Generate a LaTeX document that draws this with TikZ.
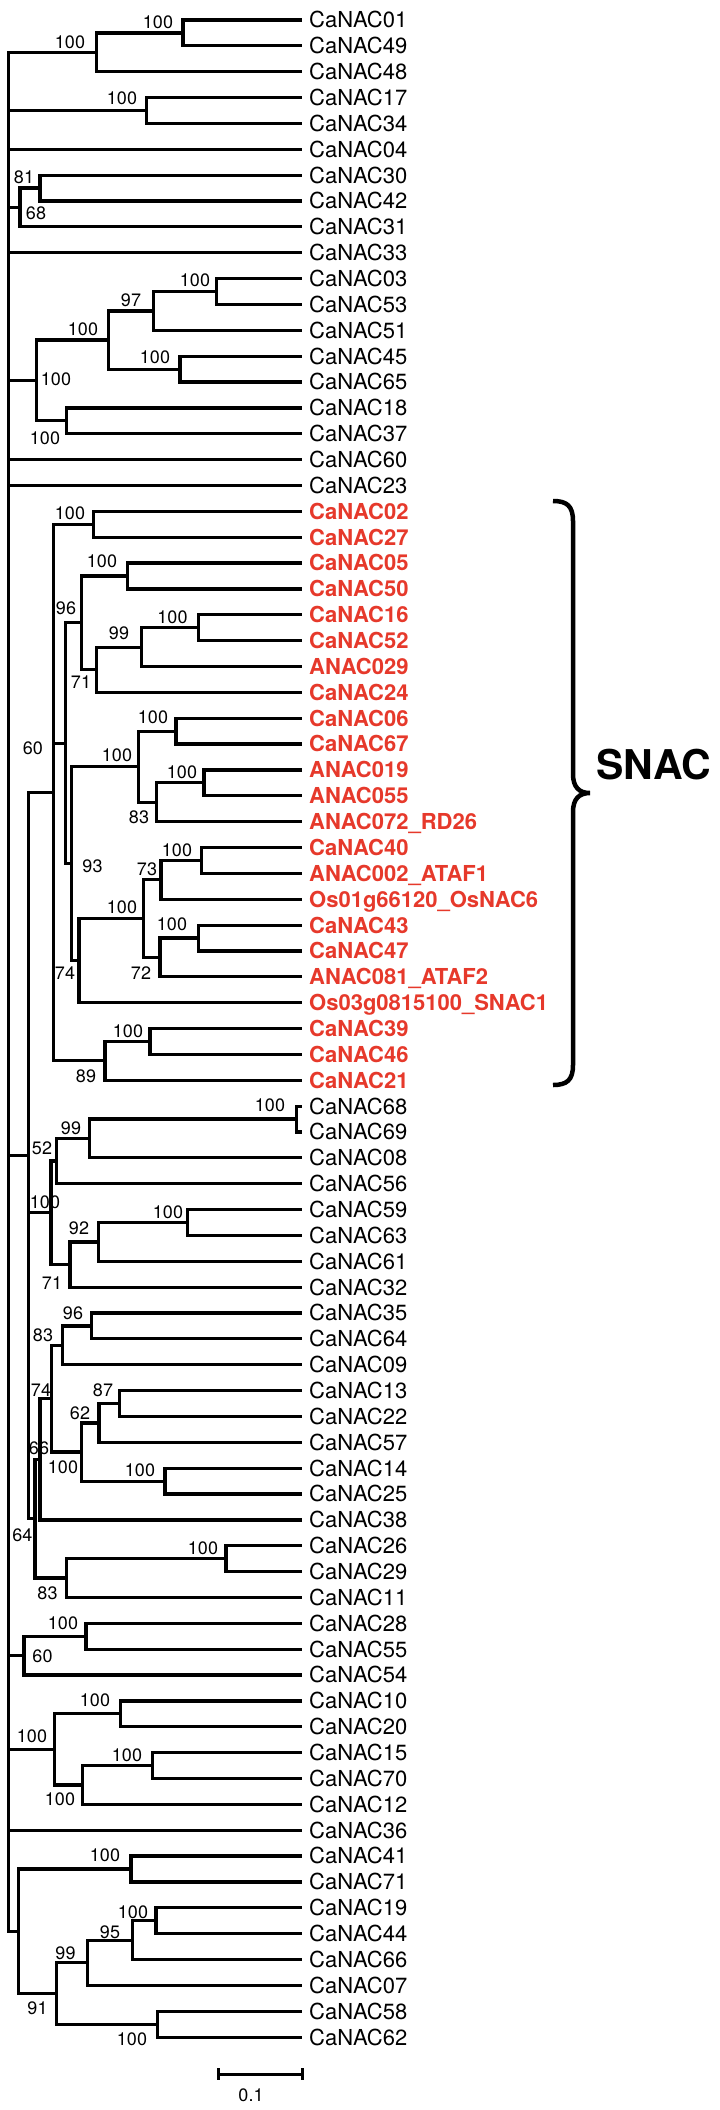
\documentclass[tikz,border=0pt]{standalone}
\usepackage{fontspec}
\setmainfont{TeX Gyre Heros}
\usetikzlibrary{calc}
\definecolor{snacred}{RGB}{230,57,43}
\newcommand\mkleaf[3]{\node[#1] (l#2) at (302,{20+(#2-1)*25.86}) {#3};}
\newcommand\inode[4]{\path let \p1=(#3), \p2=(#4) in (#2pt,{0.5*(\y1+\y2)}) coordinate (#1);}
\newcommand\edges[2]{\foreach \c in {#2} {\draw[br] (#1) |- (\c);}}
\begin{document}
\begin{tikzpicture}[x=1pt,y=-1pt,
 br/.style={line width=3.2pt, line join=miter},
 lab/.style={anchor=west, inner xsep=7pt, inner ysep=0pt, text height=15.8pt, text depth=0pt, font=\fontsize{22}{24}\selectfont},
 slab/.style={lab, text=snacred, font=\fontsize{22}{24}\selectfont\bfseries},
 bsl/.style={inner sep=0pt, text height=12.8pt, text depth=0pt, font=\fontsize{18}{20}\selectfont}]
\useasboundingbox (0,0) rectangle (720,2110);
% leaves
\mkleaf{lab}{1}{CaNAC01}
\mkleaf{lab}{2}{CaNAC49}
\mkleaf{lab}{3}{CaNAC48}
\mkleaf{lab}{4}{CaNAC17}
\mkleaf{lab}{5}{CaNAC34}
\mkleaf{lab}{6}{CaNAC04}
\mkleaf{lab}{7}{CaNAC30}
\mkleaf{lab}{8}{CaNAC42}
\mkleaf{lab}{9}{CaNAC31}
\mkleaf{lab}{10}{CaNAC33}
\mkleaf{lab}{11}{CaNAC03}
\mkleaf{lab}{12}{CaNAC53}
\mkleaf{lab}{13}{CaNAC51}
\mkleaf{lab}{14}{CaNAC45}
\mkleaf{lab}{15}{CaNAC65}
\mkleaf{lab}{16}{CaNAC18}
\mkleaf{lab}{17}{CaNAC37}
\mkleaf{lab}{18}{CaNAC60}
\mkleaf{lab}{19}{CaNAC23}
\mkleaf{slab}{20}{CaNAC02}
\mkleaf{slab}{21}{CaNAC27}
\mkleaf{slab}{22}{CaNAC05}
\mkleaf{slab}{23}{CaNAC50}
\mkleaf{slab}{24}{CaNAC16}
\mkleaf{slab}{25}{CaNAC52}
\mkleaf{slab}{26}{ANAC029}
\mkleaf{slab}{27}{CaNAC24}
\mkleaf{slab}{28}{CaNAC06}
\mkleaf{slab}{29}{CaNAC67}
\mkleaf{slab}{30}{ANAC019}
\mkleaf{slab}{31}{ANAC055}
\mkleaf{slab}{32}{ANAC072\_RD26}
\mkleaf{slab}{33}{CaNAC40}
\mkleaf{slab}{34}{ANAC002\_ATAF1}
\mkleaf{slab}{35}{Os01g66120\_OsNAC6}
\mkleaf{slab}{36}{CaNAC43}
\mkleaf{slab}{37}{CaNAC47}
\mkleaf{slab}{38}{ANAC081\_ATAF2}
\mkleaf{slab}{39}{Os03g0815100\_SNAC1}
\mkleaf{slab}{40}{CaNAC39}
\mkleaf{slab}{41}{CaNAC46}
\mkleaf{slab}{42}{CaNAC21}
\mkleaf{lab}{43}{CaNAC68}
\mkleaf{lab}{44}{CaNAC69}
\mkleaf{lab}{45}{CaNAC08}
\mkleaf{lab}{46}{CaNAC56}
\mkleaf{lab}{47}{CaNAC59}
\mkleaf{lab}{48}{CaNAC63}
\mkleaf{lab}{49}{CaNAC61}
\mkleaf{lab}{50}{CaNAC32}
\mkleaf{lab}{51}{CaNAC35}
\mkleaf{lab}{52}{CaNAC64}
\mkleaf{lab}{53}{CaNAC09}
\mkleaf{lab}{54}{CaNAC13}
\mkleaf{lab}{55}{CaNAC22}
\mkleaf{lab}{56}{CaNAC57}
\mkleaf{lab}{57}{CaNAC14}
\mkleaf{lab}{58}{CaNAC25}
\mkleaf{lab}{59}{CaNAC38}
\mkleaf{lab}{60}{CaNAC26}
\mkleaf{lab}{61}{CaNAC29}
\mkleaf{lab}{62}{CaNAC11}
\mkleaf{lab}{63}{CaNAC28}
\mkleaf{lab}{64}{CaNAC55}
\mkleaf{lab}{65}{CaNAC54}
\mkleaf{lab}{66}{CaNAC10}
\mkleaf{lab}{67}{CaNAC20}
\mkleaf{lab}{68}{CaNAC15}
\mkleaf{lab}{69}{CaNAC70}
\mkleaf{lab}{70}{CaNAC12}
\mkleaf{lab}{71}{CaNAC36}
\mkleaf{lab}{72}{CaNAC41}
\mkleaf{lab}{73}{CaNAC71}
\mkleaf{lab}{74}{CaNAC19}
\mkleaf{lab}{75}{CaNAC44}
\mkleaf{lab}{76}{CaNAC66}
\mkleaf{lab}{77}{CaNAC07}
\mkleaf{lab}{78}{CaNAC58}
\mkleaf{lab}{79}{CaNAC62}
% internal nodes
\inode{A}{183}{l1.west}{l2.west}
\inode{B}{96.7}{A}{l3.west}
\inode{C}{146.7}{l4.west}{l5.west}
\inode{D}{40}{l7.west}{l8.west}
\inode{E}{20}{D}{l9.west}
\inode{F}{216.7}{l11.west}{l12.west}
\inode{G}{153.3}{F}{l13.west}
\inode{H}{180}{l14.west}{l15.west}
\inode{I}{108.3}{G}{H}
\inode{K}{66.7}{l16.west}{l17.west}
\inode{J}{36.7}{I}{K}
\inode{L}{93.3}{l20.west}{l21.west}
\inode{M}{127.7}{l22.west}{l23.west}
\inode{N}{198.3}{l24.west}{l25.west}
\inode{O}{141.7}{N}{l26.west}
\inode{P}{96.7}{O}{l27.west}
\inode{Q}{81.7}{M}{P}
\inode{X1}{176}{l28.west}{l29.west}
\inode{X2}{204}{l30.west}{l31.west}
\inode{X3}{156.7}{X2}{l32.west}
\inode{X}{138.3}{X1}{X3}
\inode{Z1a}{201.7}{l33.west}{l34.west}
\inode{Z1}{161}{Z1a}{l35.west}
\inode{Z2a}{198.3}{l36.west}{l37.west}
\inode{Z2}{160}{Z2a}{l38.west}
\inode{Z}{143.3}{Z1}{Z2}
\inode{Y}{79}{Z}{l39.west}
\inode{W}{71.7}{X}{Y}
\inode{S}{65.5}{Q}{W}
\inode{U1}{150}{l40.west}{l41.west}
\inode{U}{105}{U1}{l42.west}
\inode{T}{53.3}{L}{U}
\inode{n6869}{296.7}{l43.west}{l44.west}
\inode{n99}{89.3}{n6869}{l45.west}
\inode{n52}{56.7}{n99}{l46.west}
\inode{n100b}{187.7}{l47.west}{l48.west}
\inode{n92}{98.3}{n100b}{l49.west}
\inode{n71}{70}{n92}{l50.west}
\inode{Na}{51}{n52}{n71}
\inode{n96}{91.7}{l51.west}{l52.west}
\inode{n83}{62.5}{n96}{l53.west}
\inode{n87}{119.3}{l54.west}{l55.west}
\inode{n62}{99}{n87}{l56.west}
\inode{n100c}{165}{l57.west}{l58.west}
\inode{n100d}{81.7}{n62}{n100c}
\inode{n74}{51.7}{n83}{n100d}
\inode{n66}{40}{n74}{l59.west}
\inode{n2629}{226}{l60.west}{l61.west}
\inode{n83b}{66.7}{n2629}{l62.west}
\inode{n64}{35}{n66}{n83b}
\inode{V}{28.3}{T}{n64}
\inode{n2855}{86}{l63.west}{l64.west}
\inode{n60}{24}{n2855}{l65.west}
\inode{n1020}{120.7}{l66.west}{l67.west}
\inode{n1570}{152.7}{l68.west}{l69.west}
\inode{n157012}{82.3}{n1570}{l70.west}
\inode{nG}{54.3}{n1020}{n157012}
\inode{n4171}{131}{l72.west}{l73.west}
\inode{n1944}{156}{l74.west}{l75.west}
\inode{n95}{132.7}{n1944}{l76.west}
\inode{n99b}{87.7}{n95}{l77.west}
\inode{n5862}{157.3}{l78.west}{l79.west}
\inode{n91}{56.7}{n99b}{n5862}
\inode{nL}{18.3}{n4171}{n91}
\inode{root}{8.3}{B}{nL}
% branches
\edges{A}{l1.west,l2.west}
\edges{B}{A,l3.west}
\edges{C}{l4.west,l5.west}
\edges{D}{l7.west,l8.west}
\edges{E}{D,l9.west}
\edges{F}{l11.west,l12.west}
\edges{G}{F,l13.west}
\edges{H}{l14.west,l15.west}
\edges{I}{G,H}
\edges{K}{l16.west,l17.west}
\edges{J}{I,K}
\edges{L}{l20.west,l21.west}
\edges{M}{l22.west,l23.west}
\edges{N}{l24.west,l25.west}
\edges{O}{N,l26.west}
\edges{P}{O,l27.west}
\edges{Q}{M,P}
\edges{X1}{l28.west,l29.west}
\edges{X2}{l30.west,l31.west}
\edges{X3}{X2,l32.west}
\edges{X}{X1,X3}
\edges{Z1a}{l33.west,l34.west}
\edges{Z1}{Z1a,l35.west}
\edges{Z2a}{l36.west,l37.west}
\edges{Z2}{Z2a,l38.west}
\edges{Z}{Z1,Z2}
\edges{Y}{Z,l39.west}
\edges{W}{X,Y}
\edges{S}{Q,W}
\edges{U1}{l40.west,l41.west}
\edges{U}{U1,l42.west}
\edges{T}{L,S,U}
\edges{n6869}{l43.west,l44.west}
\edges{n99}{n6869,l45.west}
\edges{n52}{n99,l46.west}
\edges{n100b}{l47.west,l48.west}
\edges{n92}{n100b,l49.west}
\edges{n71}{n92,l50.west}
\edges{Na}{n52,n71}
\edges{n96}{l51.west,l52.west}
\edges{n83}{n96,l53.west}
\edges{n87}{l54.west,l55.west}
\edges{n62}{n87,l56.west}
\edges{n100c}{l57.west,l58.west}
\edges{n100d}{n62,n100c}
\edges{n74}{n83,n100d}
\edges{n66}{n74,l59.west}
\edges{n2629}{l60.west,l61.west}
\edges{n83b}{n2629,l62.west}
\edges{n64}{n66,n83b}
\edges{V}{T,Na,n64}
\edges{n2855}{l63.west,l64.west}
\edges{n60}{n2855,l65.west}
\edges{n1020}{l66.west,l67.west}
\edges{n1570}{l68.west,l69.west}
\edges{n157012}{n1570,l70.west}
\edges{nG}{n1020,n157012}
\edges{n4171}{l72.west,l73.west}
\edges{n1944}{l74.west,l75.west}
\edges{n95}{n1944,l76.west}
\edges{n99b}{n95,l77.west}
\edges{n5862}{l78.west,l79.west}
\edges{n91}{n99b,n5862}
\edges{nL}{n4171,n91}
\edges{root}{B,C,l6.west,E,l10.west,J,l18.west,l19.west,V,n60,nG,l71.west,nL}
% bootstrap values
\node[bsl] (b1) at (158,22) {100};
\node[bsl] (b2) at (70,41.7) {100};
\node[bsl] (b3) at (122,98) {100};
\node[bsl] (b4) at (24,177) {81};
\node[bsl] (b5) at (36,213) {68};
\node[bsl] (b6) at (195,280) {100};
\node[bsl] (b7) at (131,300) {97};
\node[bsl] (b8) at (155,356.7) {100};
\node[bsl] (b9) at (83,329) {100};
\node[bsl] (b10) at (45,438) {100};
\node[bsl] (b11) at (56,379) {100};
\node[bsl] (b12) at (70,513) {100};
\node[bsl] (b13) at (102,561) {100};
\node[bsl] (b14) at (172.5,616.7) {100};
\node[bsl] (b15) at (119,633) {99};
\node[bsl] (b16) at (81,681.7) {71};
\node[bsl] (b17) at (66,608) {96};
\node[bsl] (b18) at (33,748) {60};
\node[bsl] (b19) at (153,716.7) {100};
\node[bsl] (b20) at (117,755) {100};
\node[bsl] (b21) at (182,772) {100};
\node[bsl] (b22) at (139,817) {83};
\node[bsl] (b23) at (92.5,866) {93};
\node[bsl] (b24) at (177,850) {100};
\node[bsl] (b25) at (147,869.3) {73};
\node[bsl] (b26) at (122,906.7) {100};
\node[bsl] (b27) at (172,924.3) {100};
\node[bsl] (b28) at (141,973.3) {72};
\node[bsl] (b29) at (65,973) {74};
\node[bsl] (b30) at (128,1031) {100};
\node[bsl] (b31) at (86,1076) {89};
\node[bsl] (b32) at (270,1105) {100};
\node[bsl] (b33) at (71,1128.3) {99};
\node[bsl] (b34) at (42,1148) {52};
\node[bsl] (b35) at (45,1201.7) {100};
\node[bsl] (b36) at (168,1211.7) {100};
\node[bsl] (b37) at (79,1228.3) {92};
\node[bsl] (b38) at (52,1283.3) {71};
\node[bsl] (b39) at (73,1312.7) {96};
\node[bsl] (b40) at (43,1335) {83};
\node[bsl] (b41) at (41,1390) {74};
\node[bsl] (b42) at (103,1390) {87};
\node[bsl] (b43) at (80,1413.3) {62};
\node[bsl] (b44) at (39,1448.3) {66};
\node[bsl] (b45) at (63,1466.7) {100};
\node[bsl] (b46) at (140,1470) {100};
\node[bsl] (b47) at (22.5,1535) {64};
\node[bsl] (b48) at (203,1548.3) {100};
\node[bsl] (b49) at (47.5,1593.3) {83};
\node[bsl] (b50) at (63,1623.3) {100};
\node[bsl] (b51) at (42.5,1656) {60};
\node[bsl] (b52) at (95,1700) {100};
\node[bsl] (b53) at (32,1736) {100};
\node[bsl] (b54) at (127,1755) {100};
\node[bsl] (b55) at (60,1799.3) {100};
\node[bsl] (b56) at (105,1855) {100};
\node[bsl] (b57) at (133,1911.7) {100};
\node[bsl] (b58) at (110,1931.7) {95};
\node[bsl] (b59) at (65.5,1952.7) {99};
\node[bsl] (b60) at (37.5,2008.3) {91};
\node[bsl] (b61) at (132,2039.3) {100};
% SNAC brace
\coordinate (bt) at (553,501);
\coordinate (btip) at (590,793);
\coordinate (bb) at (553,1085);
\draw[line width=4.5pt] (bt) .. controls (567,501) and (573,506) .. (573,521) -- (573,774) .. controls (573,787) and (579,793) .. (btip) .. controls (579,793) and (573,799) .. (573,812) -- (573,1065) .. controls (573,1080) and (567,1085) .. (bb);
\node[font=\fontsize{41}{44}\selectfont\bfseries, inner sep=0pt] (snac) at (653.5,765) {SNAC};
% scale bar
\coordinate (s1) at (218,2074);
\coordinate (s2) at (302,2074);
\draw[line width=3pt] (s1) -- (s2);
\draw[line width=3pt] ([yshift=6pt]s1) -- ([yshift=-6pt]s1);
\draw[line width=3pt] ([yshift=6pt]s2) -- ([yshift=-6pt]s2);
\node[bsl] (sl) at (251,2095) {0.1};
\end{tikzpicture}
\end{document}
